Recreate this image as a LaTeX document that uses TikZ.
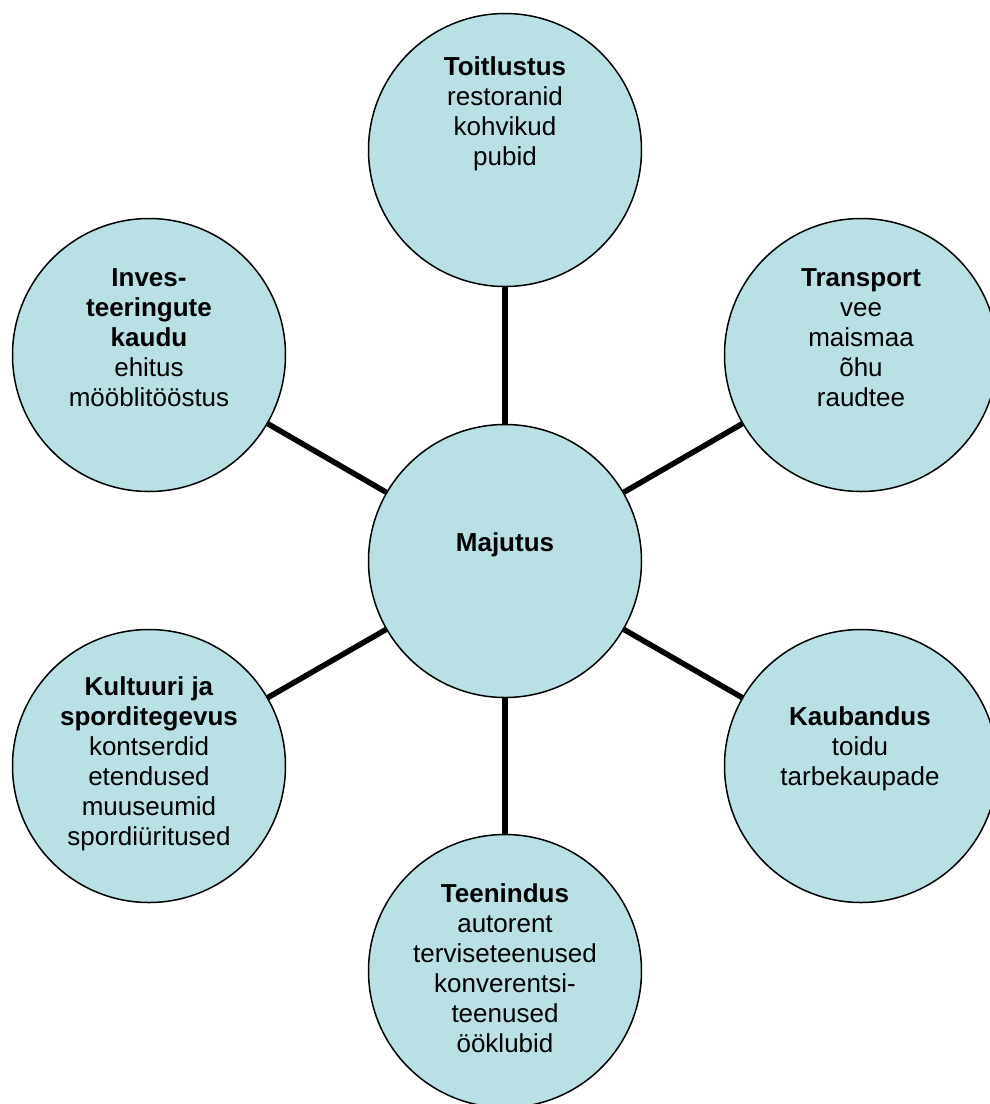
\documentclass[tikz,border=0pt]{standalone}
\usepackage{fontspec}
\setmainfont{Liberation Sans}
\definecolor{bubfill}{RGB}{185,224,228}

\begin{document}
\begin{tikzpicture}[x=1pt,y=-1pt,
  bub/.style={circle,draw,line width=1.5pt,fill=bubfill,minimum size=273pt,inner sep=0pt},
  txt/.style={align=center,inner sep=0pt,font=\fontsize{26}{30}\selectfont},
  link/.style={line width=5.5pt}]
\path[use as bounding box] (0,0) rectangle (989,1104);
% circles
\node[bub] (maj) at (505,561) {};
\node[bub] (toit) at (505,150) {};
\node[bub] (trans) at (861,355) {};
\node[bub] (kaub) at (861,766) {};
\node[bub] (teen) at (505,971) {};
\node[bub] (kult) at (149,766) {};
\node[bub] (inv) at (149,355) {};
% connectors
\draw[link] (maj) -- (toit);
\draw[link] (maj) -- (trans);
\draw[link] (maj) -- (kaub);
\draw[link] (maj) -- (teen);
\draw[link] (maj) -- (kult);
\draw[link] (maj) -- (inv);
% texts
\node[txt] (maj-t) at (505,545) {\textbf{Majutus}};
\node[txt] (toit-t) at (505,114) {\textbf{Toitlustus}\\restoranid\\kohvikud\\pubid};
\node[txt] (trans-t) at (861,338) {\textbf{Transport}\\vee\\maismaa\\õhu\\raudtee};
\node[txt] (kaub-t) at (860,749) {\textbf{Kaubandus}\\toidu\\tarbekaupade};
\node[txt] (teen-t) at (505,968) {\textbf{Teenindus}\\autorent\\terviseteenused\\konverentsi-\\teenused\\ööklubid};
\node[txt] (kult-t) at (149,764) {\textbf{Kultuuri ja}\\\textbf{sporditegevus}\\kontserdid\\etendused\\muuseumid\\spordiüritused};
\node[txt] (inv-t) at (149,338) {\textbf{Inves-}\\\textbf{teeringute}\\\textbf{kaudu}\\ehitus\\mööblitööstus};
\end{tikzpicture}
\end{document}
